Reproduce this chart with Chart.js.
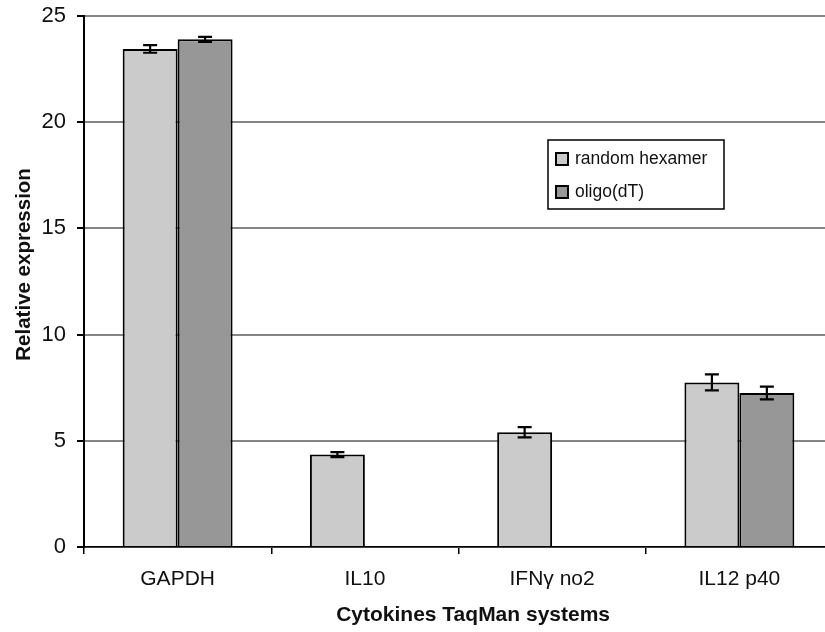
<!DOCTYPE html>
<html>
<head>
<meta charset="utf-8">
<script src="https://cdn.jsdelivr.net/npm/chart.js@4.4.0/dist/chart.umd.min.js"></script>
<style>
  html, body { margin: 0; padding: 0; background: #fff; overflow: hidden; }
  #wrap { width: 834px; height: 632px; }
</style>
</head>
<body>
<div id="wrap"><canvas id="chart" width="834" height="632"></canvas></div>
<script>
// Données
const categories = ['GAPDH', 'IL10', 'IFNγ no2', 'IL12 p40'];
const seriesNames = ['random hexamer', 'oligo(dT)'];
const randomHexamer = [23.45, 4.35, 5.4, 7.75];
const randomHexamerErr = [0.18, 0.12, 0.24, 0.38];
const oligoDT = [23.9, null, null, 7.25];
const oligoDTErr = [0.12, null, null, 0.3];
const yTicks = [0, 5, 10, 15, 20, 25];

const FONT = 'Liberation Sans, Arial, sans-serif';
const COLORS = ['#cbcbcb', '#979797'];

// barres d'erreur
const errorBars = {
    id: 'errorBars',
    afterDatasetsDraw(chart) {
        const c = chart.ctx;
        const y = chart.scales.y;
        chart.data.datasets.forEach((ds, i) => {
            const meta = chart.getDatasetMeta(i);
            meta.data.forEach((bar, j) => {
                const v = ds.data[j];
                const e = ds.errors[j];
                if (v == null || e == null) return;
                const top = y.getPixelForValue(v + e);
                const bot = y.getPixelForValue(v - e);
                c.save();
                c.strokeStyle = '#000';
                c.lineWidth = 2.2;
                c.beginPath();
                c.moveTo(bar.x, top); c.lineTo(bar.x, bot);
                c.moveTo(bar.x - 7, top); c.lineTo(bar.x + 7, top);
                c.moveTo(bar.x - 7, bot); c.lineTo(bar.x + 7, bot);
                c.stroke();
                c.restore();
            });
        });
    }
};

// légende encadrée dans la zone du graphe
const boxLegend = {
    id: 'boxLegend',
    afterDraw(chart) {
        const c = chart.ctx;
        const x0 = 548, y0 = 140, w = 176, h = 69;
        c.save();
        c.strokeStyle = '#000';
        c.lineWidth = 1.5;
        c.fillStyle = '#fff';
        c.fillRect(x0, y0, w, h);
        c.strokeRect(x0, y0, w, h);
        c.font = '17.5px ' + FONT;
        c.textBaseline = 'middle';
        chart.data.datasets.forEach((ds, i) => {
            const cy = y0 + 19 + i * 33;
            c.fillStyle = ds.backgroundColor;
            c.fillRect(556, cy - 6, 12, 12);
            c.lineWidth = 2;
            c.strokeRect(556, cy - 6, 12, 12);
            c.fillStyle = '#111';
            c.fillText(ds.label, 575, cy);
        });
        c.restore();
    }
};

new Chart(document.getElementById('chart'), {
    type: 'bar',
    data: {
        labels: categories,
        datasets: [
            {
                label: seriesNames[0],
                data: randomHexamer,
                errors: randomHexamerErr,
                backgroundColor: COLORS[0],
                borderColor: '#000',
                borderWidth: 2,
                borderSkipped: 'bottom'
            },
            {
                label: seriesNames[1],
                data: oligoDT,
                errors: oligoDTErr,
                backgroundColor: COLORS[1],
                borderColor: '#000',
                borderWidth: 2,
                borderSkipped: 'bottom'
            }
        ]
    },
    options: {
        responsive: false,
        animation: false,
        layout: { padding: { top: 16, right: 1, left: 0, bottom: 0 } },
        datasets: { bar: { barPercentage: 1, categoryPercentage: 0.587 } },
        plugins: {
            legend: { display: false },
            tooltip: { enabled: false }
        },
        scales: {
            x: {
                afterFit: (s) => { s.height = 85; },
                grid: { offset: true, drawOnChartArea: false, color: '#000', lineWidth: 1.5, tickLength: 7 },
                border: { color: '#000', width: 1.5 },
                ticks: { color: '#111', font: { family: FONT, size: 21 }, padding: 13 },
                title: {
                    display: true,
                    // espaces en tête : le titre est un peu décalé à droite dans l'original
                    text: '     Cytokines TaqMan systems',
                    color: '#111',
                    font: { family: FONT, size: 21, weight: 'bold' },
                    padding: { top: 4, bottom: 4 }
                }
            },
            y: {
                min: 0,
                max: 25,
                afterFit: (s) => { s.width = 84; s.paddingTop = 0; s.paddingBottom = 0; },
                afterBuildTicks: (s) => { s.ticks = yTicks.map(v => ({ value: v })); },
                grid: { color: '#858585', lineWidth: 2, tickColor: '#000', tickLength: 7 },
                border: { color: '#000', width: 2 },
                ticks: { color: '#111', font: { family: FONT, size: 22 }, padding: 11 },
                title: {
                    display: true,
                    text: '      Relative expression',
                    color: '#111',
                    font: { family: FONT, size: 20.5, weight: 'bold' },
                    padding: { top: 12, bottom: 4 }
                }
            }
        }
    },
    plugins: [errorBars, boxLegend]
});
</script>
</body>
</html>
